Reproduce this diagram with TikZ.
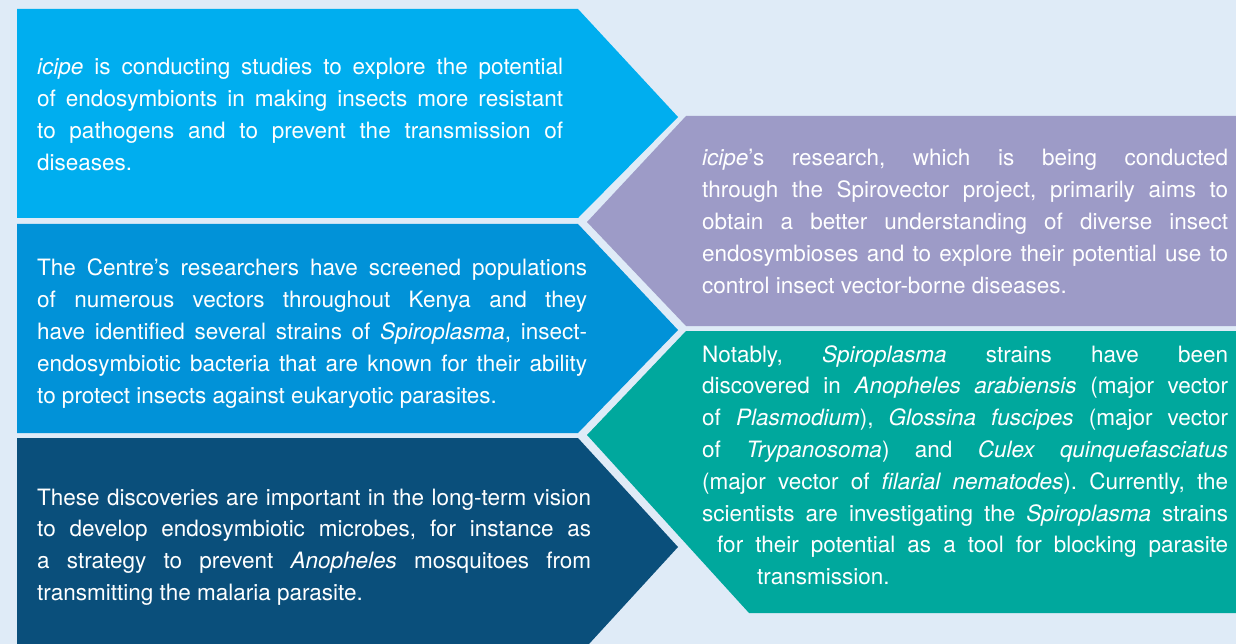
\documentclass[tikz,border=0pt]{standalone}
\usepackage{fontspec}
\setmainfont{TeX Gyre Heros}
\usepackage{tikz}
\usetikzlibrary{positioning}
\definecolor{pagebg}{RGB}{223,235,247}
\definecolor{skyblue}{RGB}{0,174,239}
\definecolor{midblue}{RGB}{1,146,216}
\definecolor{navyblue}{RGB}{10,79,123}
\definecolor{lavender}{RGB}{157,155,199}
\definecolor{teal}{RGB}{0,168,157}
\tikzset{
	panel/.style={draw=none},
	blurb/.style={anchor=base west, inner sep=0pt, text=white, align=left,
		font=\fontsize{22.5}{31.8}\selectfont},
}
\frenchspacing
% one justified line, and a last (ragged) line
\newcommand{\jline}[1]{\makebox[\hsize][s]{\spaceskip=0pt\xspaceskip=0pt #1}\\}
\newcommand{\jindent}[2]{\hspace*{#1}\makebox[\dimexpr\hsize-#1\relax][s]{\spaceskip=0pt\xspaceskip=0pt #2}\\}
\newcommand{\jlast}[1]{{\spaceskip=0pt\xspaceskip=0pt #1}}

\begin{document}
\begin{tikzpicture}[x=1pt, y=-1pt]
		\fill[pagebg] (0,0) rectangle (1236,644);
		\useasboundingbox (0,0) rectangle (1236,644);
		% left column, pointing right
		\fill[panel, skyblue] (17,9) -- (578,9) -- (678,117) -- (578,218) -- (17,218) -- cycle;
		\fill[panel, midblue] (17,224) -- (578,224) -- (678,330) -- (578,433) -- (17,433) -- cycle;
		\fill[panel, navyblue] (17,438) -- (578,438) -- (678,547) -- (578,656) -- (17,656) -- cycle;
		% right column, pointing left
		\fill[panel, lavender] (686,116) -- (1240,116) -- (1240,326) -- (686,326) -- (587,222) -- cycle;
		\fill[panel, teal] (686,331) -- (1240,331) -- (1240,613) -- (749,613) -- (587,435) -- cycle;
		\node[blurb, text width=526pt] (aims) at (37,75) {%
			\jline{\textit{icipe} is conducting studies to explore the potential}
			\jline{of endosymbionts in making insects more resistant}
			\jline{to pathogens and to prevent the transmission of}
			\jlast{diseases.}};
		\node[blurb, text width=550pt] (screen) at (37,276) {%
			\jline{The Centre’s researchers have screened populations}
			\jline{of numerous vectors throughout Kenya and they}
			\jline{have identified several strains of \textit{Spiroplasma}, insect-}
			\jline{endosymbiotic bacteria that are known for their ability}
			\jlast{to protect insects against eukaryotic parasites.}};
		\node[blurb, text width=554pt] (vision) at (37,505) {%
			\jline{These discoveries are important in the long-term vision}
			\jline{to develop endosymbiotic microbes, for instance as}
			\jline{a strategy to prevent \textit{Anopheles} mosquitoes from}
			\jlast{transmitting the malaria parasite.}};
		\node[blurb, text width=526pt] (project) at (702,166) {%
			\jline{\textit{icipe}’s research, which is being conducted}
			\jline{through the Spirovector project, primarily aims to}
			\jline{obtain a better understanding of diverse insect}
			\jline{endosymbioses and to explore their potential use to}
			\jlast{control insect vector-borne diseases.}};
		\node[blurb, text width=526pt] (strains) at (702,362) {%
			\jline{Notably, \textit{Spiroplasma} strains have been}
			\jline{discovered in \textit{Anopheles arabiensis} (major vector}
			\jline{of \textit{Plasmodium}), \textit{Glossina fuscipes} (major vector}
			\jline{of \textit{Trypanosoma}) and \textit{Culex quinquefasciatus}}
			\jline{(major vector of \textit{filarial nematodes}). Currently, the}
			\jline{scientists are investigating the \textit{Spiroplasma} strains}
			\jindent{15pt}{for their potential as a tool for blocking parasite}
			\hspace*{55pt}\jlast{transmission.}};
\end{tikzpicture}
\end{document}
